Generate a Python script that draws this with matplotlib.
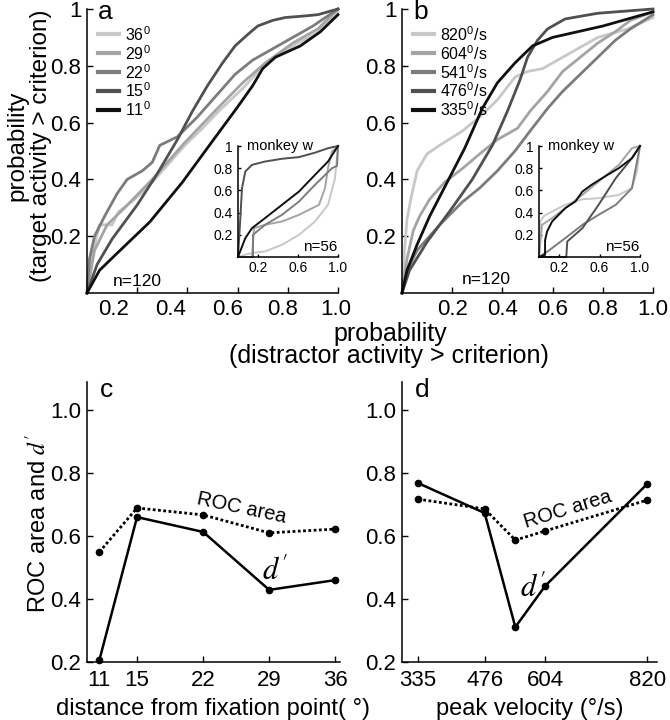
import matplotlib.pyplot as plt
from matplotlib.lines import Line2D

plt.rcParams['font.family'] = ['Liberation Sans', 'DejaVu Sans']
plt.rcParams['mathtext.fontset'] = 'stix'

W, H = 670, 720

# ---- panel a: ROC curves, distance from fixation ----
a_labels = ['36', '29', '22', '15', '11']
a_colors = ['#c8c8c8', '#a4a4a4', '#7c7c7c', '#505050', '#101010']
a36_x = [0, 0.02, 0.05, 0.1, 0.125, 0.19, 0.26, 0.33, 0.39, 0.46, 0.52, 0.62, 0.71, 0.82, 0.92, 1.0]
a36_y = [0, 0.13, 0.24, 0.24, 0.285, 0.33, 0.39, 0.46, 0.52, 0.58, 0.636, 0.72, 0.806, 0.87, 0.917, 0.99]
a29_x = [0, 0.03, 0.08, 0.15, 0.26, 0.39, 0.52, 0.62, 0.71, 0.82, 0.92, 1.0]
a29_y = [0, 0.15, 0.24, 0.30, 0.40, 0.53, 0.65, 0.74, 0.81, 0.88, 0.93, 1.0]
a22_x = [0, 0.01, 0.03, 0.07, 0.12, 0.16, 0.22, 0.26, 0.29, 0.36, 0.44, 0.52, 0.59, 0.66, 0.74, 0.82, 0.9, 1.0]
a22_y = [0, 0.12, 0.2, 0.27, 0.35, 0.40, 0.43, 0.46, 0.52, 0.55, 0.62, 0.70, 0.77, 0.82, 0.86, 0.9, 0.94, 1.0]
a15_x = [0, 0.04, 0.1, 0.2, 0.28, 0.36, 0.42, 0.48, 0.54, 0.59, 0.64, 0.68, 0.74, 0.79, 0.86, 0.92, 1.0]
a15_y = [0, 0.1, 0.19, 0.31, 0.42, 0.54, 0.64, 0.73, 0.81, 0.87, 0.91, 0.94, 0.96, 0.97, 0.975, 0.98, 1.0]
a11_x = [0, 0.05, 0.12, 0.25, 0.38, 0.5, 0.6, 0.66, 0.7, 0.75, 0.85, 0.93, 1.0]
a11_y = [0, 0.08, 0.14, 0.25, 0.39, 0.535, 0.655, 0.73, 0.79, 0.83, 0.87, 0.92, 0.98]

# inset a (monkey w)
ia36_x = [0, 0.07, 0.14, 0.27, 0.44, 0.61, 0.77, 0.9, 0.97, 1.0]
ia36_y = [0, 0.02, 0.036, 0.05, 0.11, 0.2, 0.32, 0.47, 0.71, 1.0]
ia29_x = [0, 0.14, 0.16, 0.27, 0.44, 0.61, 0.81, 0.87, 0.9, 0.94, 1.0]
ia29_y = [0, 0, 0.26, 0.29, 0.32, 0.38, 0.47, 0.62, 0.8, 0.95, 1.0]
ia22_x = [0, 0.15, 0.15, 0.27, 0.44, 0.61, 0.77, 0.94, 0.99, 1.0]
ia22_y = [0, 0, 0.2, 0.29, 0.38, 0.5, 0.65, 0.8, 0.82, 1.0]
ia15_x = [0, 0.02, 0.04, 0.073, 0.14, 0.27, 0.44, 0.61, 0.77, 0.9, 1.0]
ia15_y = [0, 0.3, 0.62, 0.77, 0.83, 0.86, 0.885, 0.9, 0.94, 0.98, 1.0]
ia11_x = [0, 0.073, 0.14, 0.27, 0.44, 0.61, 0.77, 0.9, 1.0]
ia11_y = [0, 0.17, 0.26, 0.35, 0.47, 0.59, 0.74, 0.86, 1.0]

# ---- panel b: ROC curves, peak velocity ----
b_labels = ['820', '604', '541', '476', '335']
b_colors = a_colors
b820_x = [0, 0.01, 0.02, 0.035, 0.06, 0.1, 0.15, 0.24, 0.31, 0.38, 0.45, 0.5, 0.56, 0.64, 0.78, 0.9, 1.0]
b820_y = [0, 0.15, 0.26, 0.33, 0.43, 0.49, 0.52, 0.57, 0.62, 0.68, 0.76, 0.78, 0.79, 0.83, 0.9, 0.93, 0.97]
b604_x = [0, 0.02, 0.045, 0.07, 0.11, 0.17, 0.243, 0.31, 0.38, 0.46, 0.51, 0.58, 0.64, 0.71, 0.78, 0.85, 0.91, 1.0]
b604_y = [0, 0.12, 0.22, 0.27, 0.33, 0.39, 0.44, 0.49, 0.54, 0.58, 0.64, 0.71, 0.78, 0.83, 0.88, 0.92, 0.96, 0.99]
b541_x = [0, 0.02, 0.06, 0.15, 0.24, 0.31, 0.38, 0.45, 0.51, 0.58, 0.64, 0.71, 0.78, 0.85, 0.91, 1.0]
b541_y = [0, 0.08, 0.15, 0.24, 0.32, 0.37, 0.43, 0.5, 0.57, 0.65, 0.71, 0.77, 0.83, 0.89, 0.93, 0.98]
b476_x = [0, 0.03, 0.1, 0.2, 0.28, 0.36, 0.42, 0.47, 0.5, 0.54, 0.58, 0.65, 0.78, 1.0]
b476_y = [0, 0.08, 0.18, 0.3, 0.4, 0.52, 0.64, 0.75, 0.83, 0.89, 0.93, 0.965, 0.985, 1.0]
b335_x = [0, 0.02, 0.06, 0.11, 0.18, 0.25, 0.32, 0.38, 0.45, 0.52, 0.6, 0.7, 0.8, 0.9, 1.0]
b335_y = [0, 0.08, 0.17, 0.27, 0.39, 0.51, 0.65, 0.74, 0.81, 0.87, 0.9, 0.92, 0.94, 0.965, 0.99]

# inset b (monkey w)
ib820_x = [0, 0.013, 0.05, 0.13, 0.26, 0.43, 0.59, 0.79, 0.92, 0.97, 1.0]
ib820_y = [0, 0.32, 0.37, 0.41, 0.47, 0.52, 0.53, 0.56, 0.62, 0.77, 1.0]
ib604_x = [0, 0.03, 0.13, 0.26, 0.43, 0.59, 0.79, 0.92, 1.0]
ib604_y = [0, 0.29, 0.35, 0.44, 0.56, 0.68, 0.83, 0.98, 1.0]
ib541_x = [0, 0.1, 0.26, 0.43, 0.59, 0.76, 0.92, 1.0]
ib541_y = [0, 0.06, 0.17, 0.29, 0.38, 0.47, 0.62, 1.0]
ib476_x = [0, 0.27, 0.28, 0.43, 0.59, 0.76, 0.92, 1.0]
ib476_y = [0, 0, 0.14, 0.26, 0.47, 0.71, 0.89, 1.0]
ib335_x = [0, 0.06, 0.06, 0.08, 0.13, 0.26, 0.36, 0.43, 0.52, 0.66, 0.79, 0.92, 1.0]
ib335_y = [0, 0.02, 0.15, 0.23, 0.32, 0.44, 0.5, 0.59, 0.65, 0.73, 0.8, 0.89, 1.0]

# ---- panels c, d ----
dist = [11, 15, 22, 29, 36]
roc_dist = [0.549, 0.689, 0.667, 0.61, 0.622]
dprime_dist = [0.205, 0.66, 0.613, 0.429, 0.46]
vel = [335, 476, 541, 604, 820]
vel_ticks = [335, 476, 604, 820]
roc_vel = [0.717, 0.686, 0.587, 0.616, 0.714]
dprime_vel = [0.768, 0.673, 0.311, 0.441, 0.765]

roc_ticks = [0.2, 0.4, 0.6, 0.8, 1.0]


def box(l, t, r, b):
    return [l / W, 1 - b / H, (r - l) / W, (b - t) / H]


def style(ax, size=16, length=4):
    for s in ('top', 'right'):
        ax.spines[s].set_visible(False)
    for s in ('left', 'bottom'):
        ax.spines[s].set_linewidth(1.1)
    ax.tick_params(direction='in', length=length, width=1.0, labelsize=size, pad=4)


fig = plt.figure(figsize=(W / 100, H / 100), dpi=100)

ax_a = fig.add_axes(box(87, 9, 338, 293))
ax_b = fig.add_axes(box(402, 9, 653, 293))
in_a = fig.add_axes(box(238, 146, 338, 257))
in_b = fig.add_axes(box(539, 146, 640, 257))
ax_c = fig.add_axes(box(87, 382, 340, 662))
ax_d = fig.add_axes(box(402, 382, 657, 662))

main_a = [(a36_x, a36_y), (a29_x, a29_y), (a22_x, a22_y), (a15_x, a15_y), (a11_x, a11_y)]
main_b = [(b820_x, b820_y), (b604_x, b604_y), (b541_x, b541_y), (b476_x, b476_y), (b335_x, b335_y)]
ins_a = [(ia36_x, ia36_y), (ia29_x, ia29_y), (ia22_x, ia22_y), (ia15_x, ia15_y), (ia11_x, ia11_y)]
ins_b = [(ib820_x, ib820_y), (ib604_x, ib604_y), (ib541_x, ib541_y), (ib476_x, ib476_y), (ib335_x, ib335_y)]

for ax, curves, labels, colors, unit, letter in [
        (ax_a, main_a, a_labels, a_colors, '', 'a'),
        (ax_b, main_b, b_labels, b_colors, '/s', 'b')]:
    for (x, y), c in zip(curves, colors):
        ax.plot(x, y, color=c, lw=2.0, clip_on=False, solid_joinstyle='miter')
    ax.set_xlim(0, 1)
    ax.set_ylim(0, 1)
    style(ax)
    ax.set_yticks([0.2, 0.4, 0.6, 0.8, 1.0], ['0.2', '0.4', '0.6', '0.8', '1'])
    handles = [Line2D([], [], color=c, lw=3.0) for c in colors]
    names = [l + r'$^\mathregular{0}$' + unit for l in labels]
    ax.legend(handles, names, loc='upper left', bbox_to_anchor=(0.045, 0.945),
              frameon=False, fontsize=11.5, handlelength=1.3, handletextpad=0.35,
              labelspacing=0.06, borderpad=0, borderaxespad=0)
    ax.text(0.045, 0.99, letter, transform=ax.transAxes, fontsize=19,
            ha='left', va='center')

# panel a: tick labels sit left of the tick marks in the original
ax_a.set_xticks([0.2, 0.4, 0.6, 0.8, 1.0], [])
ax_a.set_xticks([0.104, 0.331, 0.562, 0.781, 0.992],
                ['0.2', '0.4', '0.6', '0.8', '1.0'], minor=True)
ax_a.tick_params(axis='x', which='minor', length=0, labelsize=16, pad=4)
ax_b.set_xticks([0.2, 0.4, 0.6, 0.8, 1.0], ['0.2', '0.4', '0.6', '0.8', '1.0'])

ax_a.text(0.104, 0.042, 'n=120', transform=ax_a.transAxes, fontsize=12.5, va='center')
ax_b.text(0.24, 0.046, 'n=120', transform=ax_b.transAxes, fontsize=12.5, va='center')

for ax, curves, colors in [(in_a, ins_a, a_colors), (in_b, ins_b, b_colors)]:
    for (x, y), c in zip(curves, colors):
        ax.plot(x, y, color=c, lw=1.4, clip_on=False)
    ax.set_xlim(0, 1)
    ax.set_ylim(0, 1)
    ax.patch.set_alpha(0)
    style(ax, size=10, length=2.5)
    ax.set_xticks([0.2, 0.6, 1.0], ['0.2', '0.6', '1.0'])
    ax.set_yticks([0.2, 0.4, 0.6, 0.8, 1.0], ['0.2', '0.4', '0.6', '0.8', '1'])
    ax.tick_params(axis='x', pad=3)
    ax.text(0.09, 1.0, 'monkey w', transform=ax.transAxes, fontsize=10.5,
            ha='left', va='center')
    ax.text(0.99, 0.09, 'n=56', transform=ax.transAxes, fontsize=11,
            ha='right', va='center')

fig.text(17 / W, 1 - 146 / H, 'probability', rotation=90,
         ha='center', va='center', fontsize=17.5)
fig.text(41 / W, 1 - 146 / H, '(target activity > criterion)', rotation=90,
         ha='center', va='center', fontsize=17.5)
fig.text(390 / W, 1 - 334 / H, 'probability',
         ha='center', va='center', fontsize=18)
fig.text(389 / W, 1 - 356 / H, '(distractor activity > criterion)',
         ha='center', va='center', fontsize=18)

# panels c and d
for ax, x, roc, dp, xl, letter in [
        (ax_c, dist, roc_dist, dprime_dist, (9.7, 36.5), 'c'),
        (ax_d, vel, roc_vel, dprime_vel, (301, 841), 'd')]:
    ax.plot(x, roc, color='k', lw=2.0, ls=(0, (1, 0.9)), marker='o', ms=4.5,
            clip_on=False)
    ax.plot(x, dp, color='k', lw=1.8, marker='o', ms=4.5, clip_on=False)
    ax.set_xlim(*xl)
    ax.set_ylim(0.2, 1.089)
    style(ax)
    ax.set_yticks(roc_ticks, ['%.1f' % t for t in roc_ticks])
    ax.tick_params(axis='x', pad=6)
    ax.text(0.05, 0.97, letter, transform=ax.transAxes, fontsize=19,
            ha='left', va='center')

ax_c.set_xticks(dist, [str(v) for v in dist])
ax_d.set_xticks(vel_ticks, [str(v) for v in vel_ticks])

ax_c.text(26.1, 0.689, 'ROC area', fontsize=14.5, rotation=-12, ha='center', va='center')
ax_c.text(29.6, 0.486, "$d'$", fontsize=22, ha='center', va='center')
ax_d.text(653, 0.683, 'ROC area', fontsize=14.5, rotation=17, ha='center', va='center')
ax_d.text(579, 0.432, "$d'$", fontsize=22, ha='center', va='center')

ax_c.set_xlabel('distance from fixation point( °)', fontsize=17, labelpad=5)
ax_d.set_xlabel('peak velocity (°/s)', fontsize=17, labelpad=5)
fig.text(38 / W, 1 - 523 / H, "ROC area and $d'$", rotation=90,
         ha='center', va='center', fontsize=17)

fig.savefig('out.png', dpi=100)
